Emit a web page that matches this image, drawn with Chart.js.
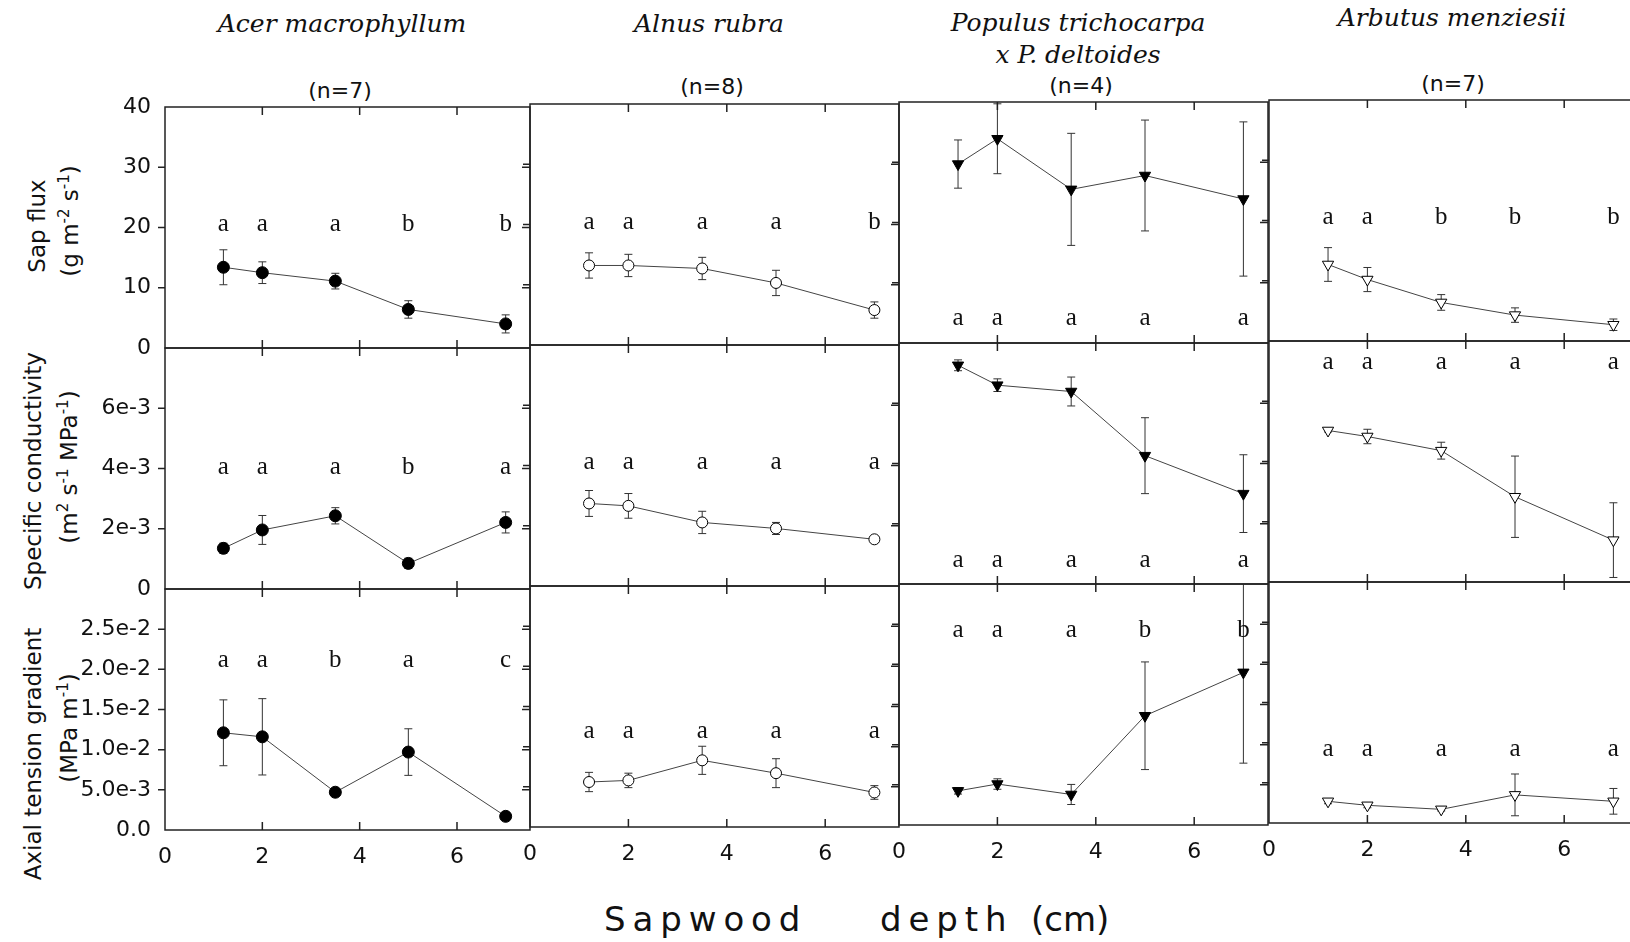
<!DOCTYPE html>
<html>
<head>
<meta charset="utf-8">
<script src="https://cdn.jsdelivr.net/npm/chart.js@4.4.1/dist/chart.umd.min.js"></script>
<style>
    html, body {
        margin: 0;
        padding: 0;
        background: #fff;
        width: 1630px;
        height: 942px;
        overflow: hidden;
        position: relative;
    }
    canvas { position: absolute; }
    .txt {
        position: absolute;
        white-space: nowrap;
        color: #111;
        line-height: 1;
    }
    .title {
        font-family: "DejaVu Serif";
        font-style: italic;
        font-size: 25px;
        transform: translate(-50%, -50%);
    }
    .n {
        font-family: "DejaVu Sans";
        font-size: 22px;
        transform: translate(-50%, -50%);
    }
    .ylab {
        font-family: "DejaVu Sans";
        font-size: 23px;
        transform: translate(-50%, -50%) rotate(-90deg);
    }
    .ylab sup {
        font-size: 15px;
        position: relative;
        top: -9px;
        vertical-align: baseline;
    }
    .xlab {
        font-family: "DejaVu Sans";
        font-size: 34px;
        top: 902px;
    }
    .spaced { letter-spacing: 6.9px; }
</style>
</head>
<body>

<div class="txt ylab" style="left:37px; top:226px;">Sap flux</div>
<div class="txt ylab" style="left:70px; top:221px;">(g m<sup>-2</sup> s<sup>-1</sup>)</div>
<div class="txt ylab" style="left:33px; top:471px;">Specific conductivity</div>
<div class="txt ylab" style="left:69px; top:467px;">(m<sup>2</sup> s<sup>-1</sup> MPa<sup>-1</sup>)</div>
<div class="txt ylab" style="left:33px; top:754px;">Axial tension gradient</div>
<div class="txt ylab" style="left:69px; top:728px;">(MPa m<sup>-1</sup>)</div>

<div class="txt xlab spaced" style="left:604px;">Sapwood</div>
<div class="txt xlab spaced" style="left:880px;">depth</div>
<div class="txt xlab" style="left:1031px;">(cm)</div>

<script>

// sapwood depth of the measuring points (cm)
const depth = [1.2, 2, 3.5, 5, 7];

const speciesTitles = [
    ['Acer macrophyllum'],
    ['Alnus rubra'],
    ['Populus trichocarpa', 'x P. deltoides'],
    ['Arbutus menziesii']
];
const sampleSizes = ['(n=7)', '(n=8)', '(n=4)', '(n=7)'];

// sap flux (g m-2 s-1), mean and error
const sapAcer = [13.4, 12.5, 11.1, 6.4, 4.0];
const sapAcerErr = [2.9, 1.8, 1.3, 1.45, 1.5];
const sapAlnus = [13.2, 13.2, 12.7, 10.3, 5.8];
const sapAlnusErr = [2.1, 1.85, 1.85, 2.1, 1.35];
const sapPopulus = [29.7, 33.9, 25.5, 27.8, 23.9];
const sapPopulusErr = [4.0, 5.8, 9.3, 9.2, 12.8];
const sapArbutus = [12.7, 10.2, 6.4, 4.3, 2.7];
const sapArbutusErr = [2.8, 2.0, 1.3, 1.2, 0.95];

// specific conductivity (m2 s-1 MPa-1)
const condAcer = [1.35e-3, 1.96e-3, 2.43e-3, 0.85e-3, 2.21e-3];
const condAcerErr = [0.17e-3, 0.48e-3, 0.27e-3, 0.17e-3, 0.35e-3];
const condAlnus = [2.74e-3, 2.66e-3, 2.11e-3, 1.91e-3, 1.55e-3];
const condAlnusErr = [0.43e-3, 0.41e-3, 0.37e-3, 0.2e-3, 0];
const condPopulus = [7.26e-3, 6.6e-3, 6.39e-3, 4.26e-3, 3.0e-3];
const condPopulusErr = [0.18e-3, 0.21e-3, 0.48e-3, 1.26e-3, 1.29e-3];
const condArbutus = [5.03e-3, 4.83e-3, 4.36e-3, 2.83e-3, 1.39e-3];
const condArbutusErr = [0.05e-3, 0.24e-3, 0.28e-3, 1.35e-3, 1.24e-3];

// axial tension gradient (MPa m-1)
const gradAcer = [12.1e-3, 11.6e-3, 4.7e-3, 9.7e-3, 1.7e-3];
const gradAcerErr = [4.1e-3, 4.75e-3, 0, 2.9e-3, 0];
const gradAlnus = [5.6e-3, 5.8e-3, 8.3e-3, 6.7e-3, 4.3e-3];
const gradAlnusErr = [1.2e-3, 0.9e-3, 1.75e-3, 1.8e-3, 0.85e-3];
const gradPopulus = [4.25e-3, 5.1e-3, 3.8e-3, 13.6e-3, 19.0e-3];
const gradPopulusErr = [0.4e-3, 0.65e-3, 1.25e-3, 6.7e-3, 11.3e-3];
const gradArbutus = [2.7e-3, 2.2e-3, 1.7e-3, 3.5e-3, 2.7e-3];
const gradArbutusErr = [0.3e-3, 0.3e-3, 0.2e-3, 2.6e-3, 1.6e-3];

// significance letters and the height they are printed at
const sapLetters = [
    ['a', 'a', 'a', 'b', 'b'],
    ['a', 'a', 'a', 'a', 'b'],
    ['a', 'a', 'a', 'a', 'a'],
    ['a', 'a', 'b', 'b', 'b']
];
const sapLetterY = [20.5, 20.3, 4.1, 20.5];
const condLetters = [
    ['a', 'a', 'a', 'b', 'a'],
    ['a', 'a', 'a', 'a', 'a'],
    ['a', 'a', 'a', 'a', 'a'],
    ['a', 'a', 'a', 'a', 'a']
];
const condLetterY = [4.03e-3, 4.1e-3, 0.78e-3, 7.3e-3];
const gradLetters = [
    ['a', 'a', 'b', 'a', 'c'],
    ['a', 'a', 'a', 'a', 'a'],
    ['a', 'a', 'a', 'b', 'b'],
    ['a', 'a', 'a', 'a', 'a']
];
const gradLetterY = [21.1e-3, 11.9e-3, 24.2e-3, 9.2e-3];

// axis ticks
const xTicks = [0, 2, 4, 6];
const xTickLabels = ['0', '2', '4', '6'];
const sapTicks = [0, 10, 20, 30, 40];
const sapTickLabels = ['0', '10', '20', '30', '40'];
const condTicks = [0, 2e-3, 4e-3, 6e-3, 8e-3];
const condTickLabels = ['0', '2e-3', '4e-3', '6e-3', ''];
const gradTicks = [0, 5e-3, 10e-3, 15e-3, 20e-3, 25e-3, 30e-3];
const gradTickLabels = ['0.0', '5.0e-3', '1.0e-2', '1.5e-2', '2.0e-2', '2.5e-2', ''];


// layout
const colLeft = [165, 530, 899, 1269];
const colWidth = [365, 369, 369, 369];
const colTop = [107, 104, 102, 100];
const rowH = 241;
const PAD = 14;
const Y_AXIS_W = 84;
const X_AXIS_H = 48;

const titleX = [342, 709, 1078, 1452];
const titleY = [23, 23, 22, 17];
const nX = [340, 712, 1081, 1453];
const nY = [91, 87, 86, 84];

const markers = [
    { style: 'circle', radius: 6, fill: '#000', rotation: 0 },
    { style: 'circle', radius: 5.5, fill: '#fff', rotation: 0 },
    { style: 'triangle', radius: 6.5, fill: '#000', rotation: 180 },
    { style: 'triangle', radius: 6.5, fill: '#fff', rotation: 180 }
];

const rows = [
    {
        values: [sapAcer, sapAlnus, sapPopulus, sapArbutus],
        errors: [sapAcerErr, sapAlnusErr, sapPopulusErr, sapArbutusErr],
        letters: sapLetters,
        letterY: sapLetterY,
        ticks: sapTicks,
        tickLabels: sapTickLabels
    },
    {
        values: [condAcer, condAlnus, condPopulus, condArbutus],
        errors: [condAcerErr, condAlnusErr, condPopulusErr, condArbutusErr],
        letters: condLetters,
        letterY: condLetterY,
        ticks: condTicks,
        tickLabels: condTickLabels
    },
    {
        values: [gradAcer, gradAlnus, gradPopulus, gradArbutus],
        errors: [gradAcerErr, gradAlnusErr, gradPopulusErr, gradArbutusErr],
        letters: gradLetters,
        letterY: gradLetterY,
        ticks: gradTicks,
        tickLabels: gradTickLabels
    }
];


// error bars, frame, inward ticks and letters
const panelDecor = {

    id: 'panelDecor',

    beforeDatasetsDraw(chart, args, opts) {

        const { ctx, chartArea: a } = chart;
        const x = chart.scales.x;
        const y = chart.scales.y;

        ctx.save();
        ctx.beginPath();
        ctx.rect(a.left, a.top, a.right - a.left, a.bottom - a.top);
        ctx.clip();

        ctx.strokeStyle = '#333';
        ctx.lineWidth = 1;

        chart.data.datasets[0].data.forEach((p, i) => {

            const e = opts.errors[i];

            if (!e) {
                return;
            }

            const px = x.getPixelForValue(p.x);
            const top = y.getPixelForValue(p.y + e);
            const bot = y.getPixelForValue(p.y - e);

            ctx.beginPath();
            ctx.moveTo(px, top);
            ctx.lineTo(px, bot);
            ctx.moveTo(px - 4, top);
            ctx.lineTo(px + 4, top);
            ctx.moveTo(px - 4, bot);
            ctx.lineTo(px + 4, bot);
            ctx.stroke();

        });

        ctx.restore();

    },

    afterDraw(chart, args, opts) {

        const { ctx, chartArea: a } = chart;
        const x = chart.scales.x;
        const y = chart.scales.y;

        ctx.save();

        ctx.strokeStyle = '#222';
        ctx.lineWidth = 1.5;
        ctx.strokeRect(a.left, a.top, a.right - a.left, a.bottom - a.top);

        ctx.beginPath();

        opts.yTicks.slice(1, -1).forEach(v => {
            const py = y.getPixelForValue(v);
            ctx.moveTo(a.left - 7, py);
            ctx.lineTo(a.left, py);
            ctx.moveTo(a.right - 8, py);
            ctx.lineTo(a.right, py);
        });

        xTicks.slice(1).forEach(v => {
            const px = x.getPixelForValue(v);
            ctx.moveTo(px, a.bottom);
            ctx.lineTo(px, a.bottom - 8);
            ctx.moveTo(px, a.top);
            ctx.lineTo(px, a.top + 8);
        });

        ctx.stroke();

        ctx.fillStyle = '#111';
        ctx.font = '25px "Liberation Serif"';
        ctx.textAlign = 'center';
        ctx.textBaseline = 'middle';

        opts.letters.forEach((t, i) => {
            ctx.fillText(
                t,
                x.getPixelForValue(depth[i]),
                y.getPixelForValue(opts.letterY)
            );
        });

        ctx.restore();

    }

};


function addText(cls, text, left, top) {

    const el = document.createElement('div');
    el.className = 'txt ' + cls;
    el.textContent = text;
    el.style.left = left + 'px';
    el.style.top = top + 'px';
    document.body.appendChild(el);

}

speciesTitles.forEach((lines, c) => {
    lines.forEach((t, k) => {
        addText('title', t, titleX[c], titleY[c] + k * 32);
    });
    addText('n', sampleSizes[c], nX[c], nY[c]);
});


// keep the plot area fixed: no extra room for half labels at the ends
function noLabelPadding(scale) {
    scale.paddingLeft = 0;
    scale.paddingRight = 0;
    scale.paddingTop = 0;
    scale.paddingBottom = 0;
}

function renderPanel(r, c) {

    const row = rows[r];
    const mk = markers[c];

    const yw = c === 0 ? Y_AXIS_W : 0;
    const xh = r === 2 ? X_AXIS_H : 0;

    const canvas = document.createElement('canvas');
    canvas.width = colWidth[c] + 2 * PAD + yw;
    canvas.height = rowH + 2 * PAD + xh;
    canvas.style.left = (colLeft[c] - PAD - yw) + 'px';
    canvas.style.top = (colTop[c] + r * rowH - PAD) + 'px';
    document.body.appendChild(canvas);

    const tickFont = {
        family: 'DejaVu Sans',
        size: 22,
    };

    new Chart(canvas, {

        type: 'scatter',

        data: {
            datasets: [
                {
                    data: depth.map((d, i) => ({ x: d, y: row.values[c][i] })),

                    showLine: true,

                    borderColor: '#444',

                    borderWidth: 1,

                    tension: 0,

                    pointStyle: mk.style,

                    pointRadius: mk.radius,

                    pointRotation: mk.rotation,

                    pointBackgroundColor: mk.fill,

                    pointBorderColor: '#000',

                    pointBorderWidth: 1,
                }
            ]
        },

        options: {

            responsive: false,

            animation: false,

            devicePixelRatio: 1,

            layout: {
                padding: PAD,
            },

            plugins: {

                legend: { display: false },

                tooltip: { enabled: false },

                panelDecor: {
                    errors: row.errors[c],
                    letters: row.letters[c],
                    letterY: row.letterY[c],
                    yTicks: row.ticks,
                }

            },

            scales: {

                x: {
                    type: 'linear',
                    min: 0,
                    max: 7.5,
                    display: r === 2,
                    grid: { display: false, drawTicks: false },
                    border: { display: false },
                    afterBuildTicks(scale) {
                        scale.ticks = xTicks.map(v => ({ value: v }));
                    },
                    afterFit(scale) {
                        scale.height = xh;
                        noLabelPadding(scale);
                    },
                    ticks: {
                        autoSkip: false,
                        maxRotation: 0,
                        padding: 14,
                        color: '#111',
                        font: tickFont,
                        callback: (v, i) => xTickLabels[i],
                    }
                },

                y: {
                    type: 'linear',
                    min: row.ticks[0],
                    max: row.ticks[row.ticks.length - 1],
                    display: c === 0,
                    grid: { display: false, drawTicks: false },
                    border: { display: false },
                    afterBuildTicks(scale) {
                        scale.ticks = row.ticks.map(v => ({ value: v }));
                    },
                    afterFit(scale) {
                        scale.width = yw;
                        noLabelPadding(scale);
                    },
                    ticks: {
                        autoSkip: false,
                        padding: 14,
                        color: '#111',
                        font: tickFont,
                        callback: (v, i) => row.tickLabels[i],
                    }
                }

            }

        },

        plugins: [panelDecor]

    });

}

for (let r = 0; r < 3; r++) {
    for (let c = 0; c < 4; c++) {
        renderPanel(r, c);
    }
}

</script>
</body>
</html>
